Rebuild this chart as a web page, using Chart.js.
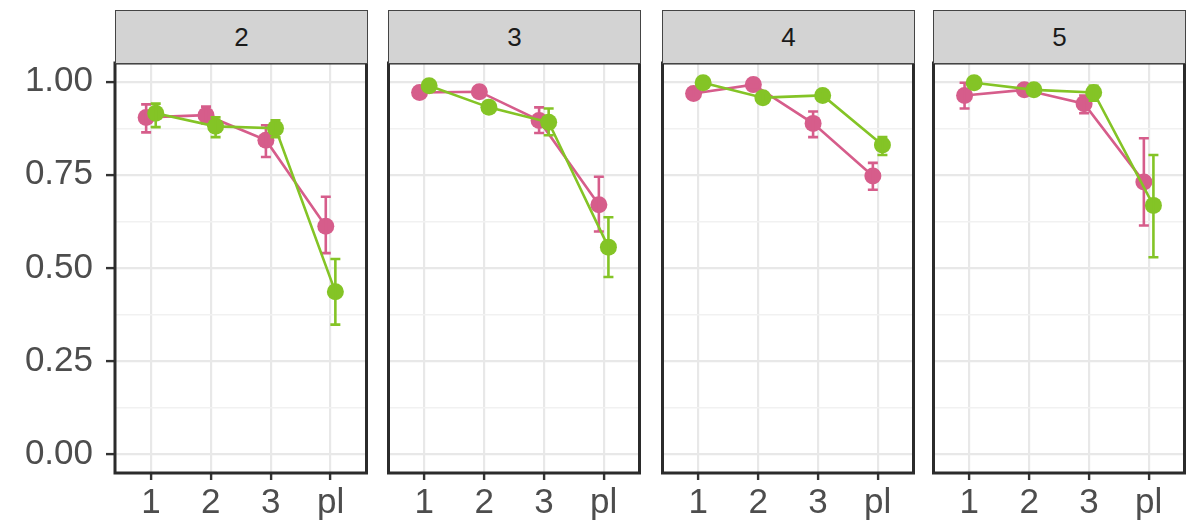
<!DOCTYPE html>
<html>
<head>
<meta charset="utf-8">
<script src="https://cdn.jsdelivr.net/npm/chart.js@4/dist/chart.umd.min.js"></script>
<style>
  body { margin: 0; background: #fff; }
  #wrap { position: relative; width: 1192px; height: 527px; overflow: hidden; }
  canvas { position: absolute; top: 0; }
  .strip {
    position: absolute; top: 10px; height: 52px; width: 251px;
    background: #d3d3d3; border: 1px solid #444;
    font: 26px "Liberation Sans", Arial, sans-serif; color: #1a1a1a;
    display: flex; align-items: center; justify-content: center;
  }
</style>
</head>
<body>
<div id="wrap"></div>
<script>
const panels = ['2', '3', '4', '5'];
const categories = ['1', '2', '3', 'pl'];
const yTicks = [0, 0.125, 0.25, 0.375, 0.5, 0.625, 0.75, 0.875, 1];

// one row per panel, one value per category
const pinkMean = [
  [0.904, 0.910, 0.843, 0.612],
  [0.971, 0.973, 0.896, 0.670],
  [0.968, 0.992, 0.888, 0.747],
  [0.963, 0.978, 0.941, 0.731]
];
const pinkLow = [
  [0.864, 0.888, 0.798, 0.540],
  [0.960, 0.965, 0.862, 0.598],
  [0.955, 0.985, 0.851, 0.710],
  [0.928, 0.968, 0.915, 0.614]
];
const pinkHigh = [
  [0.939, 0.933, 0.883, 0.691],
  [0.982, 0.981, 0.931, 0.745],
  [0.980, 0.998, 0.920, 0.782],
  [0.997, 0.988, 0.963, 0.848]
];
const greenMean = [
  [0.915, 0.880, 0.875, 0.436],
  [0.989, 0.931, 0.891, 0.556],
  [0.997, 0.957, 0.963, 0.830],
  [0.997, 0.978, 0.971, 0.668]
];
const greenLow = [
  [0.878, 0.851, 0.851, 0.348],
  [0.980, 0.920, 0.856, 0.476],
  [0.990, 0.945, 0.952, 0.803],
  [0.990, 0.965, 0.949, 0.529]
];
const greenHigh = [
  [0.941, 0.904, 0.896, 0.524],
  [0.997, 0.945, 0.928, 0.636],
  [1.000, 0.968, 0.975, 0.851],
  [1.000, 0.990, 0.989, 0.803]
];

const PINK = '#d65d8b';
const GREEN = '#84c426';
const FONT = '"Liberation Sans", Arial, sans-serif';
const panelLeft = [115, 388, 662, 933];
const panelWidth = 252;
const dodge = 0.08;

const isMajor = v => Math.abs(v * 4 - Math.round(v * 4)) < 1e-6;

// error bars, drawn with the chart's own scales
const errorBars = {
  id: 'errorBars',
  afterDatasetDraw(chart, args) {
    const ds = chart.data.datasets[args.index];
    const { ctx, scales: { x, y } } = chart;
    ctx.save();
    ctx.strokeStyle = ds.borderColor;
    ctx.lineWidth = 2.6;
    ds.data.forEach((p, i) => {
      const px = x.getPixelForValue(p.x);
      const lo = y.getPixelForValue(ds.low[i]);
      const hi = y.getPixelForValue(ds.high[i]);
      ctx.beginPath();
      ctx.moveTo(px, lo); ctx.lineTo(px, hi);
      ctx.moveTo(px - 5, lo); ctx.lineTo(px + 5, lo);
      ctx.moveTo(px - 5, hi); ctx.lineTo(px + 5, hi);
      ctx.stroke();
    });
    ctx.restore();
  }
};

const panelFrame = {
  id: 'panelFrame',
  afterDraw(chart) {
    const { ctx, chartArea: a } = chart;
    ctx.save();
    ctx.strokeStyle = '#2b2b2b';
    ctx.lineWidth = 3;
    ctx.strokeRect(a.left, a.top, a.right - a.left, a.bottom - a.top);
    ctx.restore();
  }
};

function series(means, offset) {
  return means.map((v, i) => ({ x: i + 1 + offset, y: v }));
}

const wrap = document.getElementById('wrap');

panels.forEach((name, p) => {
  const first = p === 0;
  const canvas = document.createElement('canvas');
  const left = first ? 0 : panelLeft[p] - 8;
  const width = panelLeft[p] + panelWidth + 8 - left;
  canvas.width = width;
  canvas.height = 527;
  canvas.style.left = left + 'px';
  wrap.appendChild(canvas);

  const strip = document.createElement('div');
  strip.className = 'strip';
  strip.style.left = panelLeft[p] + 'px';
  strip.textContent = name;
  wrap.appendChild(strip);

  new Chart(canvas, {
    type: 'line',
    data: {
      datasets: [
        {
          data: series(greenMean[p], dodge),
          low: greenLow[p], high: greenHigh[p],
          borderColor: GREEN, backgroundColor: GREEN,
          borderWidth: 2.6, pointRadius: 8.5, pointBorderWidth: 0
        },
        {
          data: series(pinkMean[p], -dodge),
          low: pinkLow[p], high: pinkHigh[p],
          borderColor: PINK, backgroundColor: PINK,
          borderWidth: 2.6, pointRadius: 8.5, pointBorderWidth: 0
        }
      ]
    },
    options: {
      responsive: false,
      animation: false,
      layout: { padding: { top: 63, right: 8, bottom: 0, left: first ? 0 : 8 } },
      plugins: { legend: { display: false }, tooltip: { enabled: false } },
      scales: {
        x: {
          type: 'linear',
          min: 0.4,
          max: 4.6,
          afterBuildTicks: s => { s.ticks = categories.map((c, i) => ({ value: i + 1 })); },
          afterFit: s => { s.height = 54; },
          border: { display: false },
          grid: { color: '#e8e8e8', lineWidth: 2.2, tickColor: '#333', tickLength: 7, tickWidth: 2.4 },
          ticks: {
            autoSkip: false,
            maxRotation: 0,
            padding: 2,
            color: '#4d4d4d',
            font: { family: FONT, size: 35 },
            callback: v => categories[Math.round(v) - 1]
          }
        },
        y: {
          min: -0.05,
          max: 1.05,
          afterBuildTicks: s => { s.ticks = yTicks.map(v => ({ value: v })); },
          afterFit: s => { s.width = first ? 115 : 0; },
          border: { display: false },
          grid: {
            color: c => isMajor(c.tick.value) ? '#e8e8e8' : '#f1f1f1',
            lineWidth: c => isMajor(c.tick.value) ? 2.2 : 1.4,
            drawTicks: first,
            tickColor: c => isMajor(c.tick.value) ? '#333' : 'rgba(0,0,0,0)',
            tickLength: 9,
            tickWidth: 2.4
          },
          ticks: {
            display: first,
            autoSkip: false,
            padding: 13,
            color: '#4d4d4d',
            font: { family: FONT, size: 35 },
            callback: v => isMajor(v) ? v.toFixed(2) : ''
          }
        }
      }
    },
    plugins: [errorBars, panelFrame]
  });
});
</script>
</body>
</html>
